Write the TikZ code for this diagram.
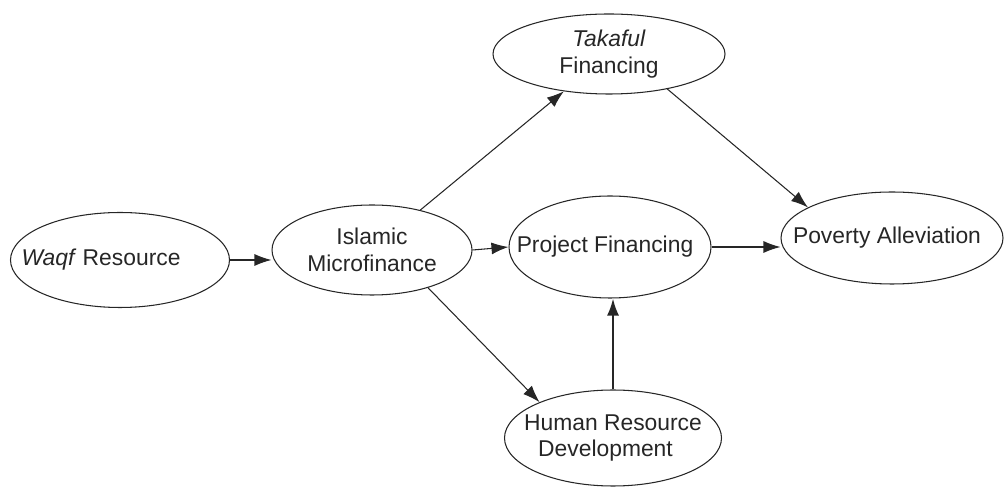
\documentclass[tikz,border=0pt]{standalone}
\usepackage{fontspec}
\setmainfont{Liberation Sans}
\usetikzlibrary{shapes.geometric,arrows.meta}
\tikzset{
    factor/.style={%
        draw=black!85, ellipse, line width=0.6pt,
        minimum width=#1,
        minimum height=1.9cm,
        inner xsep=-2.5cm, inner ysep=0pt, align=center,
        text=black!85,
        font=\fontsize{13}{15.3}\selectfont
        },
    factor/.default=4.4cm,
    link/.style={-{LaTeX[length=3.4mm,width=2.4mm]}, line width=0.6pt, draw=black!85},
    >=LaTeX
}
\begin{document}
\begin{tikzpicture}

\useasboundingbox (0,0) rectangle (20.16,9.82);

\node[factor=4.38cm] (waqf) at (2.40,4.62) {\textit{Waqf} Resource\hspace*{0.76cm}};

\node[factor=4.0cm, minimum height=1.8cm] (islamic) at (7.44,4.82) {Islamic\\Microfinance};

\node[factor=4.64cm, minimum height=1.6cm] (takaful) at (12.18,8.74) {\textit{Takaful}\\Financing};

\node[factor=4.04cm, minimum height=2.04cm] (project) at (12.20,4.88) {Project Financing\hspace*{0.2cm}};

\node[factor=4.44cm, minimum height=1.84cm] (poverty) at (17.84,5.06) {Poverty Alleviation\hspace*{0.2cm}};

\node[factor=4.34cm, minimum height=1.92cm] (hrd) at (12.26,1.06) {Human Resource\\Development\hspace*{0.3cm}};

\draw[link] (waqf.east) -- (waqf.east -| islamic.west);

\draw[link] (islamic.east) -- (project.west);

\draw[link] (islamic) -- (takaful);

\draw[link] (islamic.-34) -- (hrd.154);

\draw[link] (takaful.-31) -- (poverty.160);

\draw[link] (project.east) -- (project.east -| poverty.west);

\draw[link, line width=1.2pt] (hrd.north) -- (hrd.north |- project.south);

\end{tikzpicture}
\end{document}
